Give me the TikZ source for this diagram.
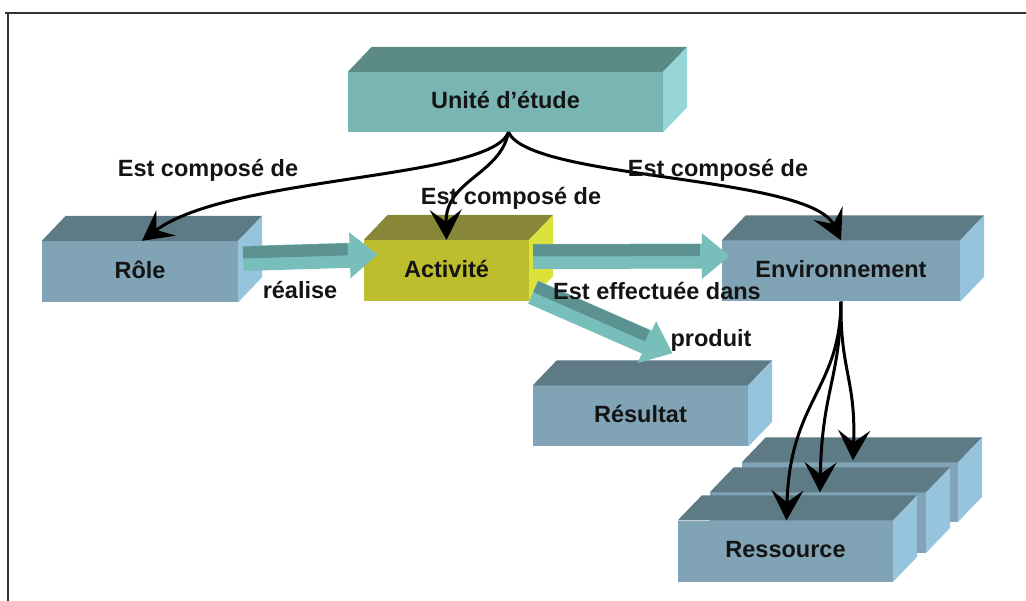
\documentclass[tikz,border=0pt]{standalone}
\usepackage{fontspec}
\setmainfont{Liberation Sans}
\usetikzlibrary{calc,arrows.meta}
\definecolor{bluefront}{RGB}{128,163,181}
\definecolor{bluetop}{RGB}{94,122,132}
\definecolor{blueside}{RGB}{150,196,220}
\definecolor{tealfront}{RGB}{120,181,179}
\definecolor{tealtop}{RGB}{92,138,133}
\definecolor{tealside}{RGB}{150,214,214}
\definecolor{olivefront}{RGB}{189,190,46}
\definecolor{olivetop}{RGB}{136,135,56}
\definecolor{oliveside}{RGB}{220,226,60}
\definecolor{arrlight}{RGB}{120,190,186}
\definecolor{arrdark}{RGB}{92,146,146}
\definecolor{txt}{RGB}{20,20,20}
\newcommand\boxfaces[2]{%
  \fill[#2top] (#1.north west) -- ++(24,-25) -- ($(#1.north east)+(24,-25)$) -- (#1.north east) -- cycle;
  \fill[#2side] (#1.north east) -- ++(24,-25) -- ($(#1.south east)+(24,-25)$) -- (#1.south east) -- cycle;}
\newcommand\fatarr[2]{%
  \draw[fatline] (#1) -- (#2);
  \draw[fatband] ($(#1)!6pt!90:(#2)$) -- ($($(#2)!30pt!(#1)$)!6pt!-90:(#1)$);}
\newcommand\up[1]{\raisebox{4pt}{#1}}
\tikzset{
  every node/.style={font=\fontsize{23.5}{28}\selectfont\bfseries, text=txt, inner sep=0pt},
  cube/.style={minimum width=#1, minimum height=61pt},
  fatline/.style={line width=25pt, arrlight, -{Triangle[length=28pt,width=44pt]}},
  fatband/.style={line width=12pt, arrdark},
  blk/.style={line width=3pt, black, -{Stealth[length=30pt,width=32pt,inset=12pt]}},
  frameline/.style={line width=1.8pt, black!80}
}
\begin{document}
\begin{tikzpicture}[x=1pt,y=-1pt]
\useasboundingbox (0,0) rectangle (1026,601);
\draw[frameline] (5,13) -- (1026,13);
\draw[frameline] (8,13) -- (8,601);

% boxes
\node[cube=315pt, minimum height=60pt, fill=tealfront] (unit) at (505.5,102) {\up{Unité d’étude}};
\boxfaces{unit}{teal}
\node[cube=196pt, fill=bluefront] (role) at (140,271.5) {\up{Rôle}};
\boxfaces{role}{blue}
\node[cube=165pt, fill=olivefront] (act) at (446.5,270.5) {\up{Activité}};
\boxfaces{act}{olive}
\node[cube=238pt, fill=bluefront] (env) at (841,271) {\up{Environnement}};
\boxfaces{env}{blue}
\node[cube=215pt, fill=bluefront] (resu) at (640.5,416) {\up{Résultat}};
\boxfaces{resu}{blue}
\node[cube=216pt, minimum height=59pt, fill=bluefront] (res3) at (850,492) {};
\boxfaces{res3}{blue}
\node[cube=216pt, minimum height=60pt, fill=bluefront] (res2) at (818,522.5) {};
\boxfaces{res2}{blue}
\node[cube=215pt, fill=bluefront] (res1) at (785.5,551) {\up{Ressource}};
\boxfaces{res1}{blue}

% fat arrows
\coordinate (ra1) at ($(role.east)+(5,-13)$);
\coordinate (ra2) at ($(act.west)+(14,-16)$);
\fatarr{ra1}{ra2}
\coordinate (ae1) at ($(act.east)+(4,-14)$);
\coordinate (ae2) at ($(env.west)+(8,-15)$);
\fatarr{ae1}{ae2}
\coordinate (ar1) at ($(act.south east)+(4,-9)$);
\coordinate (ar2) at ($(resu.north)+(32,-32)$);
\fatarr{ar1}{ar2}

% black arrows
\coordinate (us) at ($(unit.south)+(3,0)$);
\draw[blk] (us) .. controls (490,180) and (230,175) .. ($(role.north)+(2,0)$);
\draw[blk] (us) .. controls (500,175) and (445,180) .. (act.north);
\draw[blk] (us) .. controls (530,180) and (810,175) .. (env.north);
\draw[blk] (env.south) .. controls (840,370) and (856,380) .. ($(res3.north)+(3,-2)$);
\draw[blk] (env.south) .. controls (840,380) and (822,390) .. ($(res2.north)+(2,0)$);
\draw[blk] (env.south) .. controls (840,390) and (790,400) .. ($(res1.north)+(1,0)$);

% labels
\node (l1) at (208,170) {Est composé de};
\node (l2) at (511,198) {Est composé de};
\node (l3) at (718,170) {Est composé de};
\node (l4) at (300,290) {réalise};
\node (l5) at (657,291) {Est effectuée dans};
\node (l6) at (711,340) {produit};
\end{tikzpicture}
\end{document}
